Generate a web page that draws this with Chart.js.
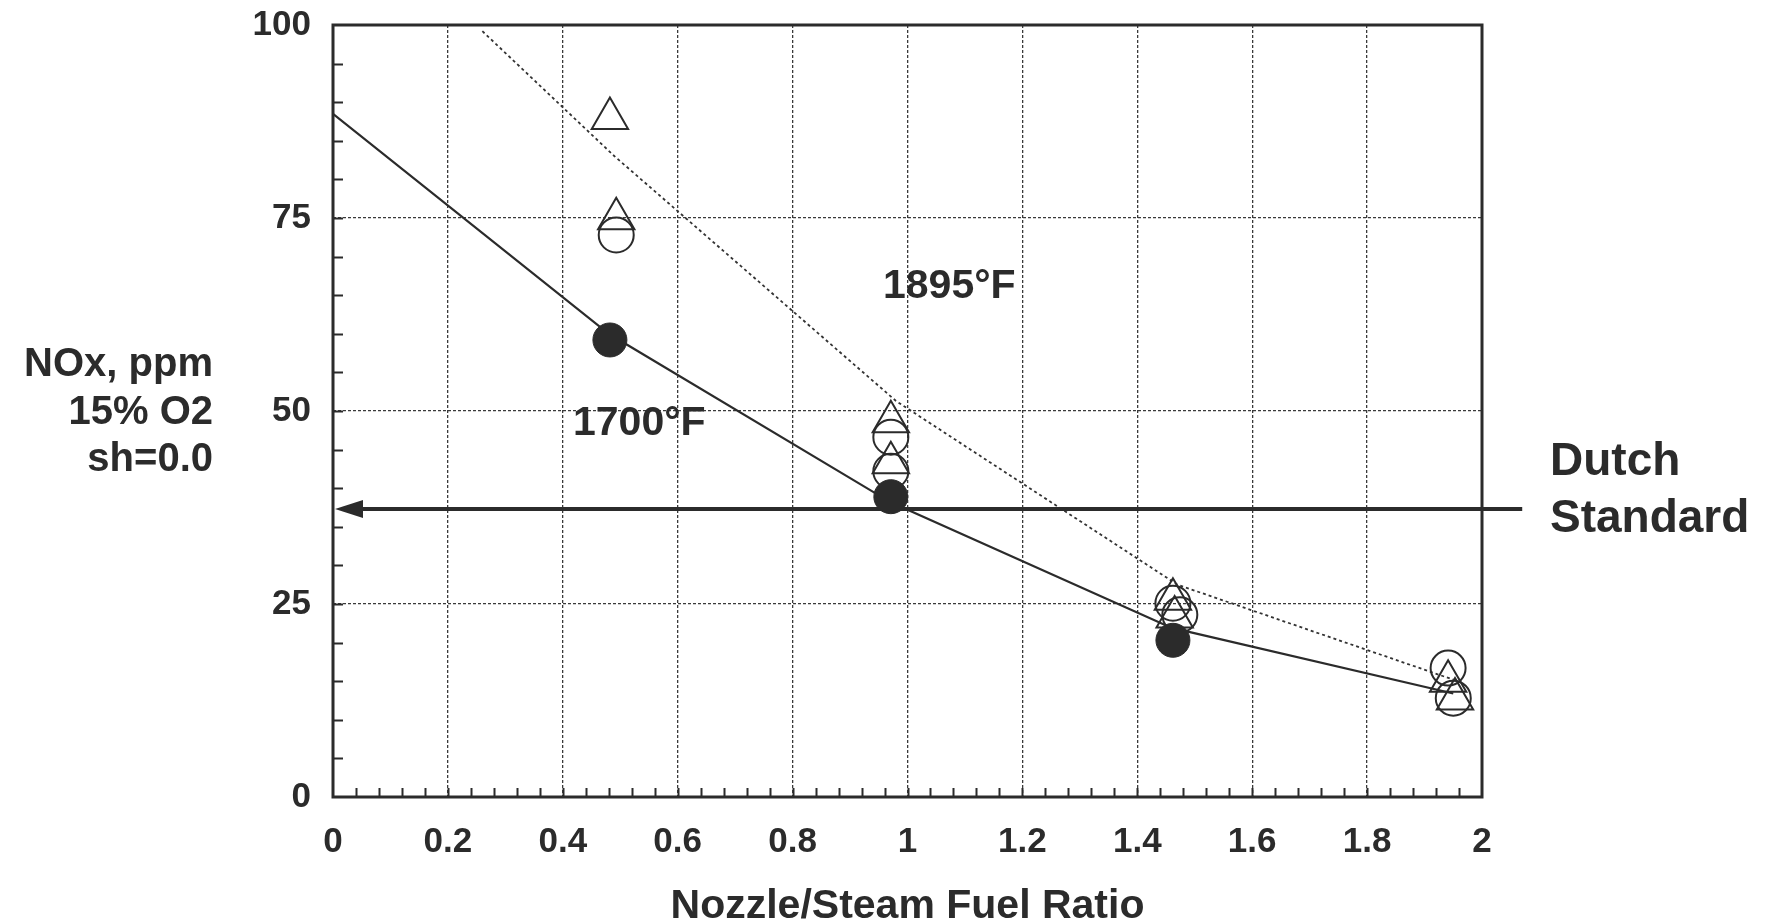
<!DOCTYPE html>
<html>
<head>
<meta charset="utf-8">
<script src="https://cdn.jsdelivr.net/npm/chart.js@4.4.1/dist/chart.umd.min.js"></script>
<style>
  html, body { margin: 0; padding: 0; background: #fff; }
  #wrap { width: 1777px; height: 921px; }
</style>
</head>
<body>
<div id="wrap"><canvas id="noxChart" width="1777" height="921"></canvas></div>
<script>
// values
const filledX = [0.482, 0.971, 1.462];
const filledY = [59.2, 38.9, 20.3];
const openCircleX = [0.493, 0.971, 0.971, 1.462, 1.474, 1.941, 1.950];
const openCircleY = [72.8, 46.6, 42.2, 25.1, 23.6, 16.7, 12.8];
const triangleX = [0.482, 0.493, 0.971, 0.971, 1.462, 1.465, 1.941, 1.953];
const triangleY = [87.9, 74.9, 48.6, 43.3, 25.6, 23.3, 15.0, 12.7];
const curve1700X = [0, 0.48, 0.97, 1.46, 1.95];
const curve1700Y = [88.5, 60.0, 38.2, 21.9, 13.4];
const curve1895X = [0.26, 0.49, 0.98, 1.47, 1.95];
const curve1895Y = [99.2, 83.0, 51.3, 27.5, 15.2];
const dutchStandard = 37.3;
const dutchLineEndX = 2.07;
const xRange = [0, 2];
const yRange = [0, 100];
const xStep = 0.2, yStep = 25;
const xMinorStep = 0.04, yMinorStep = 5;

const ink = "#2b2b2b";
const FONT = "'Liberation Sans', Arial, sans-serif";

function toPoints(xs, ys) {
  return xs.map((x, i) => ({ x: x, y: ys[i] }));
}

// frame, inward minor ticks, labels and the Dutch standard arrow
const decorPlugin = {
  id: "decor",
  beforeDatasetsDraw(chart) {
    const { ctx, chartArea: a, scales: { x, y } } = chart;
    ctx.save();
    ctx.strokeStyle = ink;
    ctx.lineWidth = 2;
    ctx.beginPath();
    const nx = Math.round((xRange[1] - xRange[0]) / xMinorStep);
    for (let i = 1; i < nx; i++) {
      const px = Math.round(x.getPixelForValue(i * xMinorStep)) + 0.5;
      ctx.moveTo(px, a.bottom);
      ctx.lineTo(px, a.bottom - 9);
    }
    const ny = Math.round((yRange[1] - yRange[0]) / yMinorStep);
    for (let i = 1; i < ny; i++) {
      const py = Math.round(y.getPixelForValue(i * yMinorStep)) + 0.5;
      ctx.moveTo(a.left, py);
      ctx.lineTo(a.left + 10, py);
    }
    ctx.stroke();
    ctx.lineWidth = 3;
    ctx.strokeRect(a.left, a.top, a.right - a.left, a.bottom - a.top);
    ctx.restore();
  },
  afterDatasetsDraw(chart) {
    const { ctx, scales: { x, y } } = chart;
    ctx.save();
    // Dutch standard arrow
    const yy = y.getPixelForValue(dutchStandard);
    const tip = x.getPixelForValue(0) + 2;
    const end = x.getPixelForValue(dutchLineEndX);
    ctx.strokeStyle = ink;
    ctx.fillStyle = ink;
    ctx.lineWidth = 4;
    ctx.beginPath();
    ctx.moveTo(tip + 20, yy);
    ctx.lineTo(end, yy);
    ctx.stroke();
    ctx.beginPath();
    ctx.moveTo(tip, yy);
    ctx.lineTo(tip + 28, yy - 9);
    ctx.lineTo(tip + 28, yy + 9);
    ctx.closePath();
    ctx.fill();

    // texts
    ctx.fillStyle = ink;
    ctx.textBaseline = "alphabetic";
    ctx.font = "bold 41px " + FONT;
    ctx.textAlign = "left";
    ctx.fillText("1895°F", 883, 298);
    ctx.fillText("1700°F", 573, 435);
    ctx.font = "bold 46px " + FONT;
    ctx.fillText("Dutch", 1550, 475);
    ctx.fillText("Standard", 1550, 532);
    ctx.font = "bold 40px " + FONT;
    ctx.textAlign = "right";
    ctx.fillText("NOx, ppm", 213, 376);
    ctx.fillText("15% O2", 213, 424);
    ctx.fillText("sh=0.0", 213, 471);
    ctx.restore();
  }
};

const ctx = document.getElementById("noxChart");

new Chart(ctx, {
  type: "scatter",
  data: {
    datasets: [
      {
        label: "filled",
        data: toPoints(filledX, filledY),
        pointStyle: "circle",
        pointRadius: 17,
        backgroundColor: ink,
        borderColor: ink,
        borderWidth: 1
      },
      {
        label: "open circles",
        data: toPoints(openCircleX, openCircleY),
        pointStyle: "circle",
        pointRadius: 17.5,
        backgroundColor: "rgba(0,0,0,0)",
        borderColor: ink,
        borderWidth: 2
      },
      {
        label: "triangles",
        data: toPoints(triangleX, triangleY),
        pointStyle: "triangle",
        pointRadius: 21,
        backgroundColor: "rgba(0,0,0,0)",
        borderColor: ink,
        borderWidth: 2
      },
      {
        label: "1700F",
        data: toPoints(curve1700X, curve1700Y),
        showLine: true,
        pointRadius: 0,
        borderColor: ink,
        borderWidth: 2.2,
        fill: false
      },
      {
        label: "1895F",
        data: toPoints(curve1895X, curve1895Y),
        showLine: true,
        pointRadius: 0,
        borderColor: "#333",
        borderWidth: 1.8,
        borderDash: [3, 3],
        fill: false
      }
    ]
  },
  options: {
    responsive: false,
    animation: false,
    events: [],
    layout: { padding: { top: 25, right: 295, left: 0, bottom: 0 } },
    plugins: {
      legend: { display: false },
      tooltip: { enabled: false }
    },
    scales: {
      x: {
        type: "linear",
        min: xRange[0],
        max: xRange[1],
        afterFit: s => { s.height = 124; s.paddingLeft = 0; s.paddingRight = 0; },
        ticks: {
          stepSize: xStep,
          color: ink,
          padding: 24,
          maxRotation: 0,
          font: { family: FONT, size: 35, weight: "bold" },
          callback: v => String(+v.toFixed(1))
        },
        grid: { color: "#3a3a3a", lineWidth: 1.3, drawTicks: false },
        border: { display: false, dash: [3, 2] },
        title: {
          display: true,
          text: "Nozzle/Steam Fuel Ratio",
          color: ink,
          padding: { top: 0, bottom: 0 },
          font: { family: FONT, size: 41, weight: "bold", lineHeight: 0.7 }
        }
      },
      y: {
        type: "linear",
        min: yRange[0],
        max: yRange[1],
        afterFit: s => { s.width = 333; s.paddingTop = 0; s.paddingBottom = 0; },
        ticks: {
          stepSize: yStep,
          color: ink,
          padding: 22,
          font: { family: FONT, size: 35, weight: "bold" }
        },
        grid: { color: "#3a3a3a", lineWidth: 1.3, drawTicks: false },
        border: { display: false, dash: [3, 2] }
      }
    }
  },
  plugins: [decorPlugin]
});
</script>
</body>
</html>
